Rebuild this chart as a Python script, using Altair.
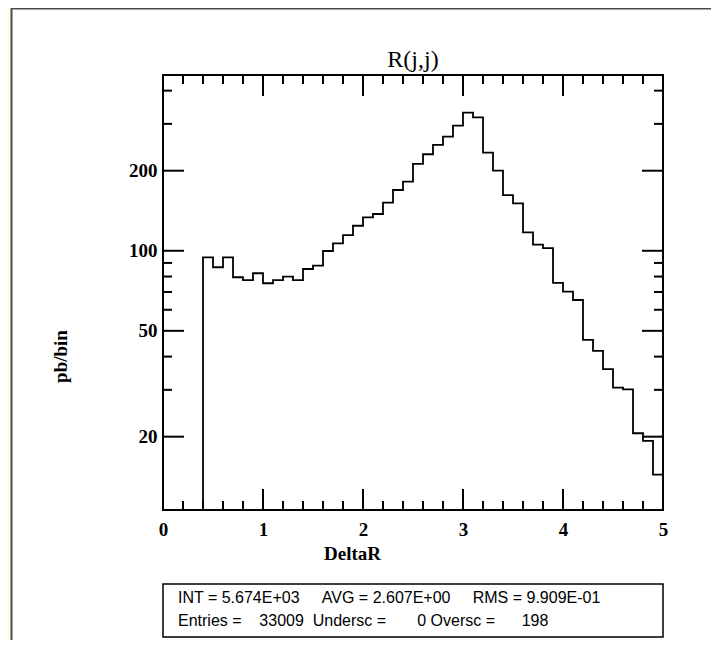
import altair as alt
import pandas as pd

# ---------------- data ----------------
bin_left = [0.4, 0.5, 0.6, 0.7, 0.8, 0.9, 1.0, 1.1, 1.2, 1.3,
            1.4, 1.5, 1.6, 1.7, 1.8, 1.9, 2.0, 2.1, 2.2, 2.3,
            2.4, 2.5, 2.6, 2.7, 2.8, 2.9, 3.0, 3.1, 3.2, 3.3,
            3.4, 3.5, 3.6, 3.7, 3.8, 3.9, 4.0, 4.1, 4.2, 4.3,
            4.4, 4.5, 4.6, 4.7, 4.8, 4.9]
bin_values = [94.5, 86.7, 94.5, 79.5, 77.6, 82.3, 75.5, 77.6, 79.9, 77.6,
              85.4, 87.9, 99.8, 106.7, 114.6, 124.2, 133.6, 137.5, 151.6, 169.2,
              181.8, 212.0, 230.6, 250.0, 268.5, 295.4, 330.4, 317.5, 233.8, 200.0,
              162.0, 150.8, 117.3, 105.4, 102.4, 75.7, 70.2, 65.3, 46.2, 42.0,
              35.9, 30.6, 30.1, 20.6, 19.3, 14.4]
x_end = 5.0
x_domain = [0, 5]
y_domain = [10.6, 458]

x_major = [0, 1, 2, 3, 4, 5]
x_minor = [0.2, 0.4, 0.6, 0.8, 1.2, 1.4, 1.6, 1.8, 2.2, 2.4, 2.6, 2.8,
           3.2, 3.4, 3.6, 3.8, 4.2, 4.4, 4.6, 4.8]
y_major = [20, 50, 100, 200]
y_minor = [30, 40, 60, 70, 80, 90, 300, 400]

title_text = "R(j,j)"
x_title = "DeltaR"
y_title = "pb/bin"
NB = "\u00a0"
stats_line1 = "INT = 5.674E+03" + NB * 5 + "AVG = 2.607E+00" + NB * 5 + "RMS = 9.909E-01"
stats_line2 = ("Entries =" + NB * 4 + "33009" + NB * 2 + "Undersc =" + NB * 7 + "0"
               + NB + "Oversc =" + NB * 6 + "198")

# ---------------- layout ----------------
W, H = 500, 435
MAJ, MIN = 21, 9
SERIF = "Liberation Serif"
SANS = "Liberation Sans"

# step-line table: start on the baseline at the first edge, end at the last edge
hist = pd.DataFrame({
    "x": [bin_left[0]] + bin_left + [x_end],
    "y": [y_domain[0]] + bin_values + [bin_values[-1]],
})
hist["i"] = range(len(hist))

x_axis = alt.Axis(values=x_major, format="d", title=x_title, ticks=False, domain=False,
                  grid=False, labelFlush=False, labelOverlap=False, zindex=1,
                  labelFont=SERIF, labelFontWeight="bold", labelFontSize=19,
                  labelColor="black", labelPadding=10,
                  titleFont=SERIF, titleFontWeight="bold", titleFontSize=19,
                  titleColor="black", titleX=189, titleY=43,
                  titleAlign="center", titleBaseline="middle")
y_axis = alt.Axis(values=y_major, format="d", title=y_title, ticks=False, domain=False,
                  grid=False, labelOverlap=False, labelFlush=False, zindex=1,
                  labelFont=SERIF, labelFontWeight="bold", labelFontSize=19,
                  labelColor="black", labelPadding=6,
                  titleFont=SERIF, titleFontWeight="bold", titleFontSize=19,
                  titleColor="black", titleX=-103, titleY=281, titleAngle=270,
                  titleAlign="center", titleBaseline="middle")

xs = alt.Scale(domain=x_domain, nice=False, zero=False)
ys = alt.Scale(type="log", domain=y_domain, nice=False)


def X(field="x"):
    return alt.X(f"{field}:Q", scale=xs, axis=x_axis)


def Y(field="y"):
    return alt.Y(f"{field}:Q", scale=ys, axis=y_axis)


one = pd.DataFrame({"k": [0]})

panel = alt.Chart(one).mark_rect(fill="white", stroke="#4a4a4a", strokeWidth=2).encode(
    x=alt.value(-151.5), x2=alt.value(620), y=alt.value(-66.5), y2=alt.value(620))

frame = alt.Chart(one).mark_rect(fill="white", stroke="black", strokeWidth=2).encode(
    x=alt.value(0), x2=alt.value(W), y=alt.value(0), y2=alt.value(H))

line = alt.Chart(hist).mark_line(interpolate="step-after", color="black",
                                 strokeWidth=1.8).encode(
    x=X(), y=Y(), order=alt.Order("i:Q"))

xmaj = pd.DataFrame({"x": x_major})
xmin = pd.DataFrame({"x": x_minor})
ymaj = pd.DataFrame({"y": y_major})
ymin = pd.DataFrame({"y": y_minor})

rule_kw = dict(color="black", strokeWidth=2)
ticks = [
    alt.Chart(xmaj).mark_rule(**rule_kw).encode(x=X(), y=alt.value(H), y2=alt.value(H - MAJ)),
    alt.Chart(xmin).mark_rule(**rule_kw).encode(x=X(), y=alt.value(H), y2=alt.value(H - MIN)),
    alt.Chart(xmaj).mark_rule(**rule_kw).encode(x=X(), y=alt.value(0), y2=alt.value(MAJ)),
    alt.Chart(xmin).mark_rule(**rule_kw).encode(x=X(), y=alt.value(0), y2=alt.value(MIN)),
    alt.Chart(ymaj).mark_rule(**rule_kw).encode(y=Y(), x=alt.value(0), x2=alt.value(MAJ)),
    alt.Chart(ymin).mark_rule(**rule_kw).encode(y=Y(), x=alt.value(0), x2=alt.value(MIN)),
    alt.Chart(ymaj).mark_rule(**rule_kw).encode(y=Y(), x=alt.value(W), x2=alt.value(W - MAJ)),
    alt.Chart(ymin).mark_rule(**rule_kw).encode(y=Y(), x=alt.value(W), x2=alt.value(W - MIN)),
]

title = alt.Chart(pd.DataFrame({"t": [title_text]})).mark_text(
    align="center", baseline="middle", font=SERIF, fontSize=24, color="black").encode(
    x=alt.value(W / 2), y=alt.value(-15), text="t:N")

stats_box = alt.Chart(one).mark_rect(fill="white", stroke="black", strokeWidth=1.5).encode(
    x=alt.value(0), x2=alt.value(W), y=alt.value(509), y2=alt.value(562))

stats1 = alt.Chart(pd.DataFrame({"t": [stats_line1]})).mark_text(
    align="left", baseline="middle", font=SANS, fontSize=16, color="black").encode(
    x=alt.value(15), y=alt.value(523), text="t:N")
stats2 = alt.Chart(pd.DataFrame({"t": [stats_line2]})).mark_text(
    align="left", baseline="middle", font=SANS, fontSize=16, color="black").encode(
    x=alt.value(15), y=alt.value(546), text="t:N")

chart = alt.layer(panel, frame, line, *ticks, title, stats_box, stats1, stats2).properties(
    width=W, height=H,
    autosize=alt.AutoSizeParams(type="none"),
    padding={"left": 155, "top": 67, "right": 48, "bottom": 130},
).configure(background="#FFFFE0").configure_view(stroke=None)

chart.save("out.html", embed_options={"renderer": "svg", "actions": False})
